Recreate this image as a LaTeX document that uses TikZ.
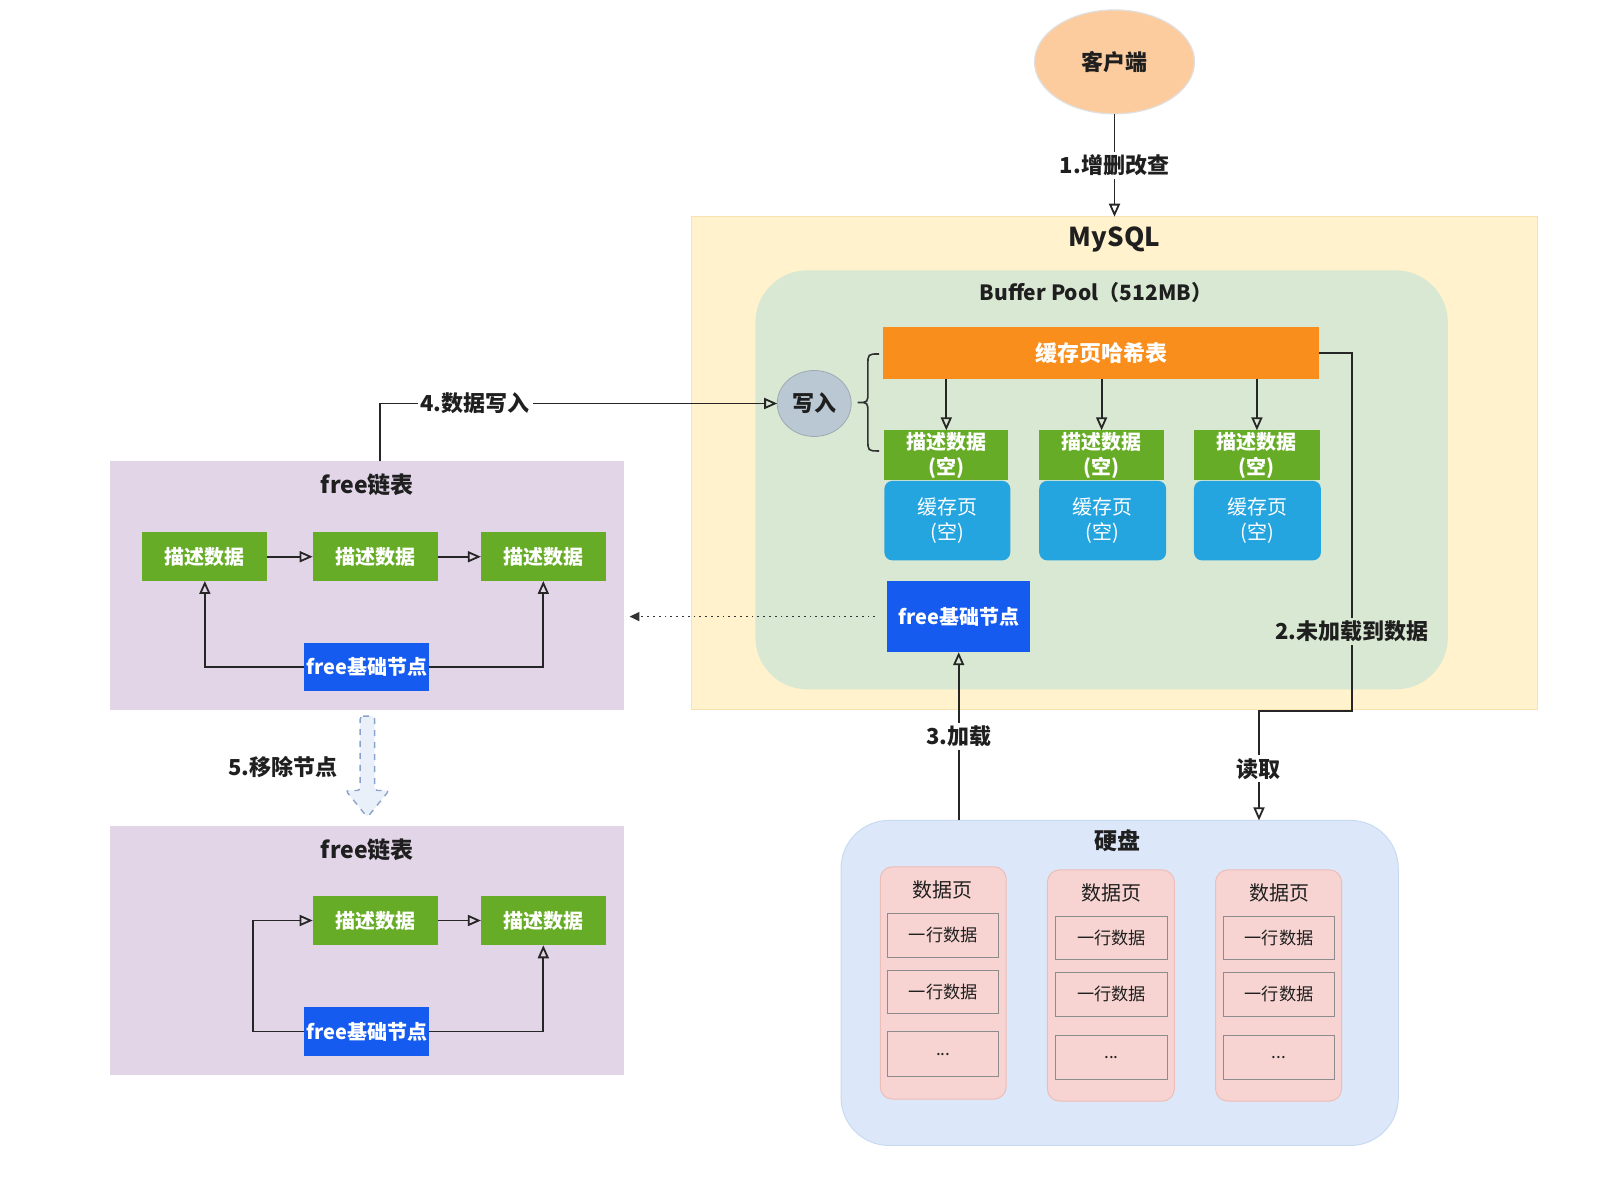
\documentclass[tikz,border=0pt]{standalone}
\usepackage{fontspec}
\setmainfont{Noto Sans CJK SC}
\usetikzlibrary{shapes.geometric,arrows.meta,fit,calc}
\definecolor{cYellow}{HTML}{FFF2CC}
\definecolor{cYellowD}{HTML}{F8E3B0}
\definecolor{cPool}{HTML}{D9E8D3}
\definecolor{cOrange}{HTML}{F98E1C}
\definecolor{cGreen}{HTML}{66AC26}
\definecolor{cCyan}{HTML}{25A5DF}
\definecolor{cBlue}{HTML}{165BEF}
\definecolor{cCircle}{HTML}{BAC8D3}
\definecolor{cPurple}{HTML}{E1D5E7}
\definecolor{cDisk}{HTML}{DCE8F9}
\definecolor{cDiskD}{HTML}{C8DAF2}
\definecolor{cPink}{HTML}{F7D4D1}
\definecolor{cPinkD}{HTML}{EDBDB8}
\definecolor{cPeach}{HTML}{FCCC9E}
\definecolor{cBlockD}{HTML}{8CA3C9}
\definecolor{cBlock}{HTML}{EAF0FA}
\begin{document}
\begin{tikzpicture}[x=0.516pt,y=-0.516pt,
  every node/.style={inner sep=0pt, outer sep=0pt, text=black!88},
  ttl/.style={font=\fontsize{11.5}{14}\selectfont\bfseries},
  lbl/.style={font=\fontsize{11}{13}\selectfont\bfseries, fill=white, inner sep=1.5pt},
  gdesc/.style={fill=cGreen, text=white, font=\fontsize{10}{12.4}\selectfont\bfseries, align=center},
  bpage/.style={fill=cCyan, rounded corners=4pt, text=white, font=\fontsize{10}{12.4}\selectfont, align=center},
  fnode/.style={fill=cBlue, text=white, font=\fontsize{10}{12}\selectfont\bfseries},
  dpage/.style={fill=cPink, draw=cPinkD, line width=0.5pt, rounded corners=6pt},
  drow/.style={fill=cPink, draw=black!45, line width=0.5pt, font=\fontsize{8.6}{10}\selectfont},
  arr/.style={draw=black!85, line width=0.9pt, -{Triangle[open, length=6.5pt, width=5.5pt]}},
  darr/.style={draw=black!80, line width=0.9pt, dotted, -{Triangle[length=5pt, width=4.5pt]}}
]
\useasboundingbox (0,0) rectangle (1565,1144.4);

% ---------- client ----------
\node[ellipse, fill=cPeach, draw=black!12, line width=0.6pt, minimum width=80pt, minimum height=52pt,
      font=\fontsize{11}{13}\selectfont\bfseries] (client) at (1080,60) {客户端};

% ---------- MySQL ----------
\node[fill=cYellow, draw=cYellowD, line width=0.5pt, fit={(670,210)(1490,688)}] (mysql) {};
\node[font=\fontsize{13}{15}\selectfont\bfseries] (mysqlt) at (1080,232) {MySQL};
\node[fill=cPool, rounded corners=26pt, fit={(732,262)(1403,668)}] (pool) {};
\node[font=\fontsize{10.5}{12}\selectfont\bfseries] (poolt) at (1062,283) {Buffer Pool（512MB）};

\node[fill=cOrange, text=white, font=\fontsize{11}{13}\selectfont\bfseries, fit={(856,317)(1278,367)}] (hash) {};
\node[text=white, font=\fontsize{11}{13}\selectfont\bfseries] (hasht) at (hash.center) {缓存页哈希表};

\node[gdesc, fit={(857,417)(977,465)}] (d1) {};
\node[gdesc, fill=none] at (d1.center) {描述数据\\(空)};
\node[gdesc, fit={(1007,417)(1128,465)}] (d2) {};
\node[gdesc, fill=none] at (d2.center) {描述数据\\(空)};
\node[gdesc, fit={(1157,417)(1279,465)}] (d3) {};
\node[gdesc, fill=none] at (d3.center) {描述数据\\(空)};

\node[bpage, fit={(857,466)(979,543)}] (c1) {};
\node[bpage, fill=none] at (c1.center) {缓存页\\(空)};
\node[bpage, fit={(1007,466)(1130,543)}] (c2) {};
\node[bpage, fill=none] at (c2.center) {缓存页\\(空)};
\node[bpage, fit={(1157,466)(1280,543)}] (c3) {};
\node[bpage, fill=none] at (c3.center) {缓存页\\(空)};

\node[fnode, fit={(860,563)(998,632)}] (fbn) {};
\node[fnode, fill=none] at (fbn.center) {free基础节点};

\node[ellipse, fill=cCircle, draw=cCircle!85!black, line width=0.4pt, minimum width=37pt, minimum height=33pt,
      font=\fontsize{11}{13}\selectfont\bfseries] (write) at (789,391) {写入};

% brace
\draw[line width=0.8pt, draw=black!80]
  (852,343) .. controls (841,343) .. (841,354) -- (841,380)
  .. controls (841,390) .. (831,390) .. controls (841,390) .. (841,400)
  -- (841,426) .. controls (841,437) .. (852,437);

% ---------- left free lists ----------
\node[fill=cPurple, fit={(107,447)(605,688)}] (fl1) {};
\node[ttl] (fl1t) at (356,470) {free链表};
\node[gdesc, fit={(138,516)(259,563)}] (a1) {};
\node[gdesc, fill=none] at (a1.center) {描述数据};
\node[gdesc, fit={(303,516)(424,563)}] (a2) {};
\node[gdesc, fill=none] at (a2.center) {描述数据};
\node[gdesc, fit={(466,516)(587,563)}] (a3) {};
\node[gdesc, fill=none] at (a3.center) {描述数据};
\node[fnode, fit={(295,623)(416,670)}] (f1) {};
\node[fnode, fill=none] at (f1.center) {free基础节点};

\node[fill=cPurple, fit={(107,800)(605,1042)}] (fl2) {};
\node[ttl] (fl2t) at (356,823) {free链表};
\node[gdesc, fit={(303,868)(424,916)}] (b1) {};
\node[gdesc, fill=none] at (b1.center) {描述数据};
\node[gdesc, fit={(466,868)(587,916)}] (b2) {};
\node[gdesc, fill=none] at (b2.center) {描述数据};
\node[fnode, fit={(295,976)(416,1023)}] (f2) {};
\node[fnode, fill=none] at (f2.center) {free基础节点};

% block arrow 5
\draw[dashed, draw=cBlockD, fill=cBlock, line width=0.7pt, rounded corners=1.5pt]
  (349,694) -- (363,694) -- (363,766) -- (377,766) -- (356,792) -- (335,766) -- (349,766) -- cycle;
\node[font=\fontsize{11}{13}\selectfont\bfseries] (l5) at (274,743) {5.移除节点};

% ---------- disk ----------
\node[fill=cDisk, draw=cDiskD, line width=0.5pt, rounded corners=24pt, fit={(815,795)(1355,1110)}] (disk) {};
\node[font=\fontsize{11.5}{13}\selectfont\bfseries] (diskt) at (1083,815) {硬盘};

\node[dpage, fit={(853,840)(975,1065)}] (p1) {};
\node[font=\fontsize{10}{12}\selectfont] at (913,862) {数据页};
\node[drow, fit={(860,885)(968,928)}] (p1r1) {};
\node[font=\fontsize{8.6}{10}\selectfont] at (p1r1.center) {一行数据};
\node[drow, fit={(860,940)(968,982)}] (p1r2) {};
\node[font=\fontsize{8.6}{10}\selectfont] at (p1r2.center) {一行数据};
\node[drow, fit={(860,1000)(968,1043)}] (p1r3) {};
\node[font=\fontsize{8.6}{10}\selectfont] at (p1r3.center) {...};

\node[dpage, fit={(1015,843)(1138,1067)}] (p2) {};
\node[font=\fontsize{10}{12}\selectfont] at (1077,865) {数据页};
\node[drow, fit={(1023,888)(1131,930)}] (p2r1) {};
\node[font=\fontsize{8.6}{10}\selectfont] at (p2r1.center) {一行数据};
\node[drow, fit={(1023,942)(1131,985)}] (p2r2) {};
\node[font=\fontsize{8.6}{10}\selectfont] at (p2r2.center) {一行数据};
\node[drow, fit={(1023,1003)(1131,1046)}] (p2r3) {};
\node[font=\fontsize{8.6}{10}\selectfont] at (p2r3.center) {...};

\node[dpage, fit={(1178,843)(1300,1067)}] (p3) {};
\node[font=\fontsize{10}{12}\selectfont] at (1240,865) {数据页};
\node[drow, fit={(1186,888)(1293,930)}] (p3r1) {};
\node[font=\fontsize{8.6}{10}\selectfont] at (p3r1.center) {一行数据};
\node[drow, fit={(1186,942)(1293,985)}] (p3r2) {};
\node[font=\fontsize{8.6}{10}\selectfont] at (p3r2.center) {一行数据};
\node[drow, fit={(1186,1003)(1293,1046)}] (p3r3) {};
\node[font=\fontsize{8.6}{10}\selectfont] at (p3r3.center) {...};

% ---------- connectors ----------
\draw[arr] (client.south) -- node[lbl]{1.增删改查} (client.south |- mysql.north);

\draw[arr] (hash.south -| d1.north) -- (d1.north);
\draw[arr] (hash.south -| d2.north) -- (d2.north);
\draw[arr] (hash.south -| d3.north) -- (d3.north);

\coordinate (s4) at ($(fl1.north)+(12,0)$);
\draw[arr] (s4) |- node[lbl, pos=0.62]{4.数据写入} (write.west);

\draw[darr] ($(fbn.west)+(-12,0)$) -- ($(fbn.west -| fl1.east)+(5,0)$);

\coordinate (k1) at (1310,689);
\coordinate (k2) at (1220,689);
\draw[arr] (hash.east) -| (k1) -- (k2) -- (k2 |- disk.north);
\node[lbl, fill=cPool] (l2) at (1310,612) {2.未加载到数据};
\node[lbl] (lr) at (1220,745) {读取};

\draw[arr] (disk.north -| fbn.south) -- node[lbl, pos=0.5]{3.加载} (fbn.south);

\draw[arr] (a1.east) -- (a2.west);
\draw[arr] (a2.east) -- (a3.west);
\draw[arr] (f1.west) -| (a1.south);
\draw[arr] (f1.east) -| (a3.south);

\draw[arr] (b1.east) -- (b2.west);
\draw[arr] (f2.west) -- ++(-50,0) |- (b1.west);
\draw[arr] (f2.east) -| (b2.south);
\end{tikzpicture}
\end{document}
